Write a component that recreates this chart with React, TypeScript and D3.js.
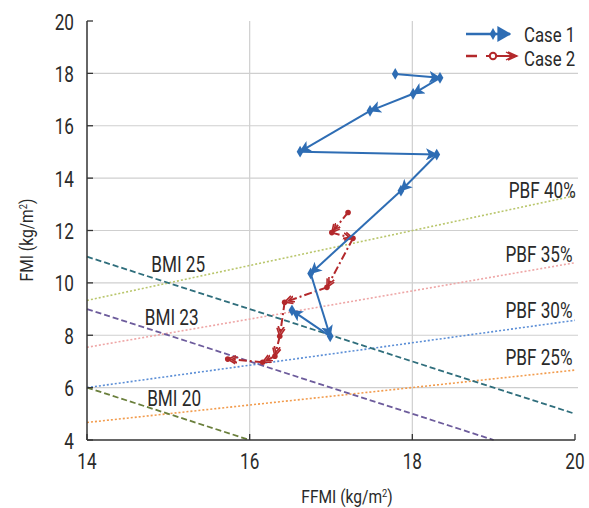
import React from "react";
import * as d3 from "d3";

// ---- data ----
const xTicks = [14, 16, 18, 20];
const yTicks = [4, 6, 8, 10, 12, 14, 16, 18, 20];
const gridX = [16, 18];
const gridY = [6, 8, 10, 12, 14, 16, 18];

const case1FFMI = [17.79, 18.34, 18.01, 17.48, 16.62, 18.3, 17.86, 16.75, 16.99, 16.52];
const case1FMI = [17.98, 17.83, 17.22, 16.57, 15.01, 14.9, 13.52, 10.36, 7.96, 8.95];

const case2FFMI = [17.21, 17.01, 17.27, 16.95, 16.43, 16.37, 16.31, 16.16, 15.73];
const case2FMI = [12.69, 11.92, 11.7, 9.83, 9.26, 7.96, 7.2, 6.97, 7.09];

const bmiLabels = ["BMI 25", "BMI 23", "BMI 20"];
const bmiStartFFMI = [14, 14, 14];
const bmiStartFMI = [11, 9, 6];
const bmiEndFFMI = [20, 19, 16];
const bmiEndFMI = [5, 4, 4];

const pbfLabels = ["PBF 40%", "PBF 35%", "PBF 30%", "PBF 25%"];
const pbfStartFFMI = [14, 14, 14, 14];
const pbfStartFMI = [9.33, 7.54, 6.0, 4.67];
const pbfEndFFMI = [20, 20, 20, 20];
const pbfEndFMI = [13.33, 10.77, 8.57, 6.67];

// ---- styles ----
const bmiColors = ["#2f6e7c", "#6d5c9c", "#6a7f3c"];
const pbfColors = ["#b9c66c", "#eea6a6", "#5b8ed6", "#f29b4c"];
const c1Color = "#2e6db4";
const c2Color = "#b3282b";
const txt = "#2a2a2a";
const FONT = "Roboto, 'Liberation Sans', Arial, sans-serif";

// label anchor positions (data coords)
const bmiLabelPos = [
  [14.79, 10.42],
  [14.71, 8.4],
  [14.74, 5.3],
];
const pbfLabelPos = [
  [20.01, 13.24],
  [19.97, 10.8],
  [19.97, 8.66],
  [19.97, 6.86],
];

const W = 589;
const H = 508;
const x = d3.scaleLinear().domain([14, 20]).range([87, 575]);
const y = d3.scaleLinear().domain([4, 20]).range([440, 21]);

function CT({
  px,
  py,
  anchor = "start",
  size = 22,
  sx = 0.78,
  children,
}: {
  px: number;
  py: number;
  anchor?: string;
  size?: number;
  sx?: number;
  children: React.ReactNode;
}) {
  return (
    <text
      transform={`translate(${px},${py}) scale(${sx},1)`}
      textAnchor={anchor as any}
      fontSize={size}
      fontFamily={FONT}
      fill={txt}
    >
      {children}
    </text>
  );
}

export default function App() {
  const seg = (xs: number[], ys: number[]) =>
    xs.slice(1).map((_, i) => ({
      x1: x(xs[i]),
      y1: y(ys[i]),
      x2: x(xs[i + 1]),
      y2: y(ys[i + 1]),
    }));
  const s1 = seg(case1FFMI, case1FMI);
  const s2 = seg(case2FFMI, case2FMI);
  const diamond = d3.symbol(d3.symbolDiamond, 40)();

  return (
    <svg width={W} height={H} style={{ position: "absolute", left: 0, top: 0 }}>
      <defs>
        <marker
          id="arr1"
          viewBox="0 0 10 10"
          refX="9"
          refY="5"
          markerWidth="12"
          markerHeight="12"
          markerUnits="userSpaceOnUse"
          orient="auto"
        >
          <path d="M0,0 L10,5 L0,10 L2.5,5 z" fill={c1Color} />
        </marker>
        <marker
          id="arr2"
          viewBox="-1 -1 12 12"
          refX="9"
          refY="5"
          markerWidth="12"
          markerHeight="12"
          markerUnits="userSpaceOnUse"
          orient="auto"
        >
          <path d="M1,1 L9,5 L1,9 M-1,2 L5,5 L-1,8" fill="none" stroke={c2Color} strokeWidth="1.6" />
        </marker>
        <marker
          id="arr1L"
          viewBox="0 0 10 10"
          refX="9"
          refY="5"
          markerWidth="14"
          markerHeight="16"
          markerUnits="userSpaceOnUse"
          orient="auto"
          preserveAspectRatio="none"
        >
          <path d="M0,0 L10,5 L0,10 z" fill={c1Color} />
        </marker>
        <marker
          id="arr2L"
          viewBox="-1 -1 12 12"
          refX="10"
          refY="5"
          markerWidth="16"
          markerHeight="12"
          markerUnits="userSpaceOnUse"
          orient="auto"
        >
          <path d="M1,1 L10,5 L1,9 M-1,1 L6,5 L-1,9" fill="none" stroke={c2Color} strokeWidth="1.4" />
        </marker>
      </defs>

      {/* grid */}
      {gridX.map((v) => (
        <line key={"gx" + v} x1={x(v)} x2={x(v)} y1={y(20)} y2={y(4)} stroke="#cfcfcf" strokeWidth={1.2} />
      ))}
      {gridY.map((v) => (
        <line key={"gy" + v} x1={x(14)} x2={x(20) + 3} y1={y(v)} y2={y(v)} stroke="#cfcfcf" strokeWidth={1.2} />
      ))}

      {/* PBF lines */}
      {pbfLabels.map((l, i) => (
        <line
          key={l}
          x1={x(pbfStartFFMI[i])}
          y1={y(pbfStartFMI[i])}
          x2={x(pbfEndFFMI[i])}
          y2={y(pbfEndFMI[i])}
          stroke={pbfColors[i]}
          strokeWidth={1.6}
          strokeDasharray="2 2"
        />
      ))}
      {/* BMI lines */}
      {bmiLabels.map((l, i) => (
        <line
          key={l}
          x1={x(bmiStartFFMI[i])}
          y1={y(bmiStartFMI[i])}
          x2={x(bmiEndFFMI[i])}
          y2={y(bmiEndFMI[i])}
          stroke={bmiColors[i]}
          strokeWidth={1.8}
          strokeDasharray="6 3"
        />
      ))}

      {/* axes */}
      <line x1={x(14)} x2={x(14)} y1={y(20)} y2={y(4)} stroke="#333" strokeWidth={1.5} />
      <line x1={x(14)} x2={x(20)} y1={y(4)} y2={y(4)} stroke="#333" strokeWidth={1.5} />
      {yTicks.map((v) => (
        <g key={"yt" + v}>
          <line x1={x(14)} x2={x(14) + 6} y1={y(v)} y2={y(v)} stroke="#333" strokeWidth={1.3} />
          <CT px={74} py={y(v) + 8.5} anchor="end">
            {v}
          </CT>
        </g>
      ))}
      {xTicks.map((v) => (
        <g key={"xt" + v}>
          <line x1={x(v)} x2={x(v)} y1={y(4)} y2={y(4) - 6} stroke="#333" strokeWidth={1.3} />
          <CT px={x(v)} py={469} anchor="middle">
            {v}
          </CT>
        </g>
      ))}

      {/* axis titles */}
      <CT px={347} py={503} anchor="middle" size={19} sx={0.82}>
        FFMI (kg/m<tspan fontSize="0.6em" dy="-0.55em">2</tspan>
        <tspan dy="0.33em">)</tspan>
      </CT>
      <g transform="translate(33,240) rotate(-90)">
        <CT px={0} py={0} anchor="middle" size={19} sx={0.82}>
          FMI (kg/m<tspan fontSize="0.6em" dy="-0.55em">2</tspan>
          <tspan dy="0.33em">)</tspan>
        </CT>
      </g>

      {/* labels */}
      {bmiLabels.map((l, i) => (
        <CT key={l} px={x(bmiLabelPos[i][0])} py={y(bmiLabelPos[i][1])}>
          {l}
        </CT>
      ))}
      {pbfLabels.map((l, i) => (
        <CT key={l} px={x(pbfLabelPos[i][0])} py={y(pbfLabelPos[i][1])} anchor="end">
          {l}
        </CT>
      ))}

      {/* Case 2 */}
      {s2.map((s, i) => (
        <line
          key={"c2" + i}
          {...s}
          stroke={c2Color}
          strokeWidth={2}
          strokeDasharray="8 3 2 3"
          markerEnd="url(#arr2)"
        />
      ))}
      {case2FFMI.map((v, i) => (
        <circle key={"c2p" + i} cx={x(v)} cy={y(case2FMI[i])} r={2.8} fill={c2Color} />
      ))}

      {/* Case 1 */}
      {s1.map((s, i) => (
        <line key={"c1" + i} {...s} stroke={c1Color} strokeWidth={2} markerEnd="url(#arr1)" />
      ))}
      {case1FFMI.map((v, i) => (
        <path
          key={"c1p" + i}
          d={diamond as string}
          transform={`translate(${x(v)},${y(case1FMI[i])})`}
          fill={c1Color}
        />
      ))}

      {/* legend */}
      <line x1={466} x2={510} y1={34} y2={34} stroke={c1Color} strokeWidth={2.5} markerEnd="url(#arr1L)" />
      <path d={diamond as string} transform="translate(493,34)" fill={c1Color} />
      <CT px={524} py={42} size={20} sx={0.84}>Case 1</CT>
      <line x1={466} x2={477} y1={56} y2={56} stroke={c2Color} strokeWidth={2.5} />
      <line x1={486} x2={517} y1={56} y2={56} stroke={c2Color} strokeWidth={2} markerEnd="url(#arr2L)" />
      <circle cx={493} cy={56} r={3.2} fill="#fff" stroke={c2Color} strokeWidth={2} />
      <CT px={524} py={66} size={20} sx={0.84}>Case 2</CT>
    </svg>
  );
}
